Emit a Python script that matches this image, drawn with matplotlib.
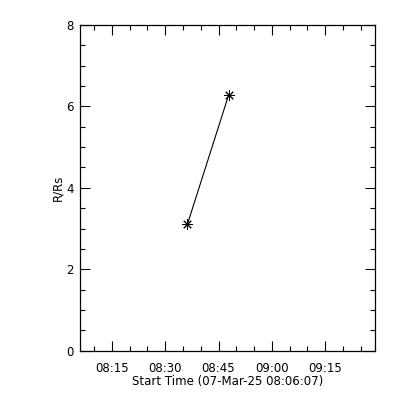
import matplotlib.pyplot as plt
from matplotlib.ticker import MultipleLocator, FuncFormatter

# start time of the x axis: 07-Mar-25 08:06:07 (minutes after 00:00)
START = 8 * 60 + 6 + 7 / 60.0

# data: minutes after start, height in solar radii
T_MIN = [30.15, 41.75]
R_RS = [3.11, 6.28]

XMAX = 83.0

fig = plt.figure(figsize=(4, 4), dpi=100)
ax = fig.add_axes([0.201, 0.123, 0.737, 0.815])

ax.plot(T_MIN, R_RS, color="black", linewidth=0.8,
        marker=(8, 2, 0), markersize=7.5, markeredgewidth=0.7)

ax.set_xlim(0, XMAX)
ax.set_ylim(0, 8)


def fmt_time(x, pos):
    m = int(round(START + x))
    return "%02d:%02d" % (m // 60, m % 60)


# major ticks at whole quarter hours, minor every 5 minutes
first = 15 - (START % 15)
majors = [first + 15 * i for i in range(6) if first + 15 * i <= XMAX]
minors = [first - 5 + 5 * i for i in range(20) if 0 <= first - 5 + 5 * i <= XMAX]
ax.set_xticks(majors)
ax.set_xticks(minors, minor=True)
ax.xaxis.set_major_formatter(FuncFormatter(fmt_time))

ax.yaxis.set_major_locator(MultipleLocator(2))
ax.yaxis.set_minor_locator(MultipleLocator(0.5))

ax.tick_params(which="both", direction="in", top=True, right=True,
               labelsize=8.5, width=0.8, colors="black")
ax.tick_params(which="major", length=7)
ax.tick_params(which="minor", length=3.5)
ax.tick_params(axis="x", which="major", pad=8)
ax.tick_params(axis="y", which="major", pad=5)

for s in ax.spines.values():
    s.set_linewidth(0.9)

ax.set_xlabel("Start Time (07-Mar-25 08:06:07)", fontsize=8.5, labelpad=0)
ax.set_ylabel("R/Rs", fontsize=8.5, labelpad=1)

fig.savefig("out.png", dpi=100)
